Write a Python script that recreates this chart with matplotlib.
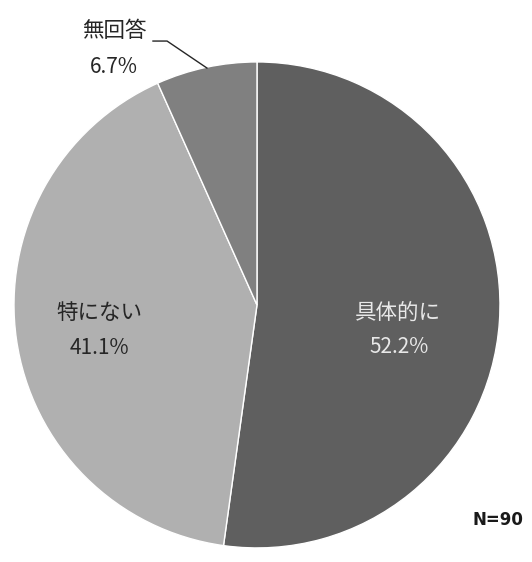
import matplotlib.pyplot as plt

plt.rcParams['font.family'] = ['Noto Sans CJK JP', 'DejaVu Sans']

# data
labels = ['具体的に', '特にない', '無回答']
values = [52.2, 41.1, 6.7]
colors = ['#5f5f5f', '#b0b0b0', '#808080']
n_total = 90

fig = plt.figure(figsize=(5.32, 5.62), dpi=100)
ax = fig.add_axes([0.0263, 0.0249, 0.9135, 0.865])

ax.pie(values, colors=colors, startangle=90, counterclock=False,
       wedgeprops={'edgecolor': 'white', 'linewidth': 1.0})
ax.set_xlim(-1, 1)
ax.set_ylim(-1, 1)
ax.set_aspect('equal')

# label positions (data coords): name, percent
label_pos = [(0.580, -0.033), (-0.650, -0.033), (-0.588, 1.128)]
pct_pos = [(0.585, -0.173), (-0.650, -0.177), (-0.588, 0.979)]
text_colors = ['#e8e8e8', '#262626', '#262626']
for lab, val, (x, y), (px, py), c in zip(labels, values, label_pos, pct_pos, text_colors):
    ax.text(x, y, lab, ha='center', va='center', fontsize=15.5, color=c)
    ax.text(px, py, f'{val}%', ha='center', va='center', fontsize=15, color=c)

# leader line for 無回答
ax.plot([-0.428, -0.370, -0.206], [1.086, 1.086, 0.975], color='#262626',
        lw=1.0, clip_on=False)

fig.text(0.936, 0.0747, f'N={n_total}', ha='center', va='center',
         fontsize=12, fontweight='bold', color='#1a1a1a', family='DejaVu Sans')

fig.savefig('out.png', dpi=100, facecolor='white')
